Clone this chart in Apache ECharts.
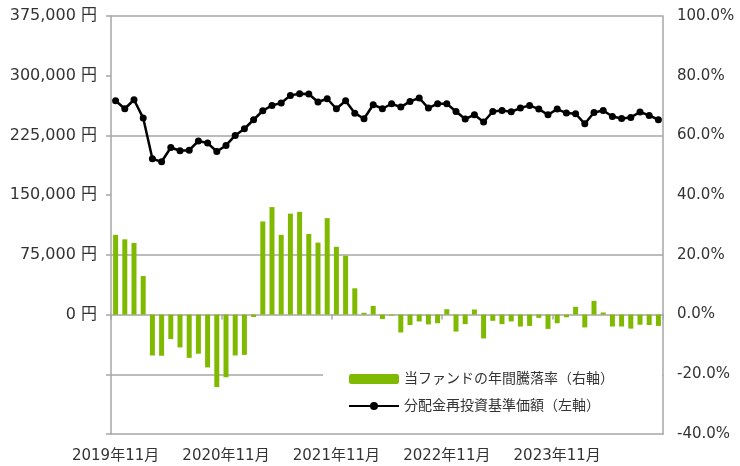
<!DOCTYPE html>
<html><head><meta charset="utf-8">
<script src="https://cdn.jsdelivr.net/npm/echarts@6/dist/echarts.min.js"></script>
<style>html,body{margin:0;padding:0;background:#fff}#c{width:740px;height:466px}</style>
</head><body><div id="c"></div>
<script>
const categories = [
 '2019年11月','2019年12月','2020年1月','2020年2月','2020年3月','2020年4月','2020年5月','2020年6月','2020年7月','2020年8月','2020年9月','2020年10月',
 '2020年11月','2020年12月','2021年1月','2021年2月','2021年3月','2021年4月','2021年5月','2021年6月','2021年7月','2021年8月','2021年9月','2021年10月',
 '2021年11月','2021年12月','2022年1月','2022年2月','2022年3月','2022年4月','2022年5月','2022年6月','2022年7月','2022年8月','2022年9月','2022年10月',
 '2022年11月','2022年12月','2023年1月','2023年2月','2023年3月','2023年4月','2023年5月','2023年6月','2023年7月','2023年8月','2023年9月','2023年10月',
 '2023年11月','2023年12月','2024年1月','2024年2月','2024年3月','2024年4月','2024年5月','2024年6月','2024年7月','2024年8月','2024年9月','2024年10月'
];
// 分配金再投資基準価額（円）
const navValues = [
 268600,258500,269800,246800,195600,192000,209900,205700,206500,218000,215400,204800,
 212400,225000,233400,244700,256000,262700,265700,275300,277400,277000,267000,271100,
 258500,268600,253000,245900,263600,258500,264800,260600,267700,272000,259400,264800,
 264800,255100,245600,251000,241800,255100,256400,254700,259400,262700,258100,251000,
 258100,253100,252200,239600,253900,256400,248800,246300,247600,254400,250100,244700
];
// 当ファンドの年間騰落率（%）
const yearlyReturns = [
 26.7,25.2,24.0,12.9,-13.7,-13.8,-8.2,-11.0,-14.5,-13.1,-17.7,-24.3,
 -21.0,-13.7,-13.5,-0.8,31.2,36.0,26.7,33.8,34.4,27.0,24.1,32.3,
 22.7,19.7,8.8,0.6,2.9,-1.5,-0.3,-6.0,-3.5,-2.3,-3.3,-2.9,
 1.8,-5.7,-3.2,1.7,-8.0,-2.1,-3.2,-2.3,-4.0,-3.8,-1.1,-4.8,
 -2.9,-0.9,2.6,-4.3,4.6,0.7,-4.0,-4.0,-4.7,-3.4,-3.5,-3.8
];
const seriesNames = ['当ファンドの年間騰落率（右軸）','分配金再投資基準価額（左軸）'];
const leftAxis = {min:-150000, max:375000, interval:75000};
const rightAxis = {min:-40, max:100, interval:20};

const FONT = "'DejaVu Sans','Noto Sans CJK JP',sans-serif";
const AXIS = '#A6A6A6';
const TXT = '#333333';
const chart = echarts.init(document.getElementById('c'), null, {renderer:'canvas'});
chart.setOption({
  animation:false,
  textStyle:{fontFamily:FONT},
  grid:{left:111,right:77,top:16,bottom:32,containLabel:false},
  legend:{orient:'vertical',left:323,top:364,padding:[8,48,8,25],itemGap:13,itemWidth:50,itemHeight:10,
    backgroundColor:'#fff',textStyle:{fontSize:14,color:TXT,fontFamily:FONT},
    data:[{name:seriesNames[0]},{name:seriesNames[1]}]},
  xAxis:[
    {type:'category',data:categories,boundaryGap:true,position:'bottom',
     axisLine:{onZero:false,lineStyle:{color:AXIS,width:1.5}},axisTick:{show:false},
     axisLabel:{interval:11,fontSize:15,color:TXT,margin:15,fontFamily:FONT},splitLine:{show:false}},
    {type:'category',data:categories,boundaryGap:true,position:'bottom',
     axisLine:{onZero:true,onZeroAxisIndex:0,lineStyle:{color:AXIS,width:1.5}},
     axisTick:{show:true,interval:11,length:5,lineStyle:{color:AXIS,width:1.5}},
     axisLabel:{show:false},splitLine:{show:false}}
  ],
  yAxis:[
    {type:'value',position:'left',min:leftAxis.min,max:leftAxis.max,interval:leftAxis.interval,
     axisLine:{show:true,lineStyle:{color:AXIS,width:1.5}},
     axisTick:{show:true,length:5,lineStyle:{color:AXIS,width:1.5}},
     axisLabel:{fontSize:16,color:TXT,margin:14,fontFamily:FONT,
       formatter:v=>v<0?'':v.toLocaleString('en-US')+' 円'},
     splitLine:{show:true,lineStyle:{color:['rgba(0,0,0,0)',AXIS],width:1.5}}},
    {type:'value',position:'right',min:rightAxis.min,max:rightAxis.max,interval:rightAxis.interval,
     axisLine:{show:true,lineStyle:{color:AXIS,width:1.5}},axisTick:{show:false},
     axisLabel:{fontSize:15,color:TXT,margin:14,fontFamily:FONT,formatter:v=>v.toFixed(1)+'%'},
     splitLine:{show:false}}
  ],
  series:[
    {name:seriesNames[0],type:'bar',xAxisIndex:0,yAxisIndex:1,data:yearlyReturns,barWidth:5,
     itemStyle:{color:'#7FBA00'},z:2},
    {name:seriesNames[1],type:'line',xAxisIndex:0,yAxisIndex:0,data:navValues,symbol:'circle',symbolSize:7,
     showAllSymbol:true,lineStyle:{color:'#000',width:2.5},itemStyle:{color:'#000'},z:3}
  ]
});
</script></body></html>
